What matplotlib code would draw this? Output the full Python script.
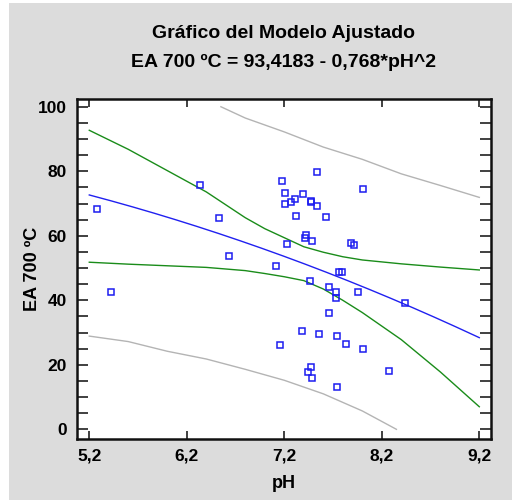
import numpy as np
import matplotlib
matplotlib.use('Agg')
from matplotlib import pyplot as plt
from matplotlib.patches import Rectangle
from matplotlib.ticker import MultipleLocator, FixedLocator

plt.rcParams['font.family'] = ['Liberation Sans', 'DejaVu Sans']

# observed data
ph = [5.276, 5.423, 6.332, 6.530, 6.633, 7.110, 7.159, 7.173, 7.210, 7.210,
      7.225, 7.272, 7.310, 7.323, 7.389, 7.385, 7.412, 7.426, 7.446, 7.464,
      7.471, 7.477, 7.474, 7.487, 7.487, 7.538, 7.538, 7.559, 7.628, 7.662,
      7.662, 7.727, 7.727, 7.737, 7.737, 7.761, 7.795, 7.830, 7.887, 7.915,
      7.953, 8.004, 8.004, 8.279, 8.443]
ea = [68.2, 42.5, 75.6, 65.4, 53.8, 50.7, 26.1, 77.0, 73.2, 69.8,
      57.5, 70.5, 71.5, 66.1, 72.9, 30.5, 59.2, 60.2, 17.7, 46.0,
      70.8, 70.5, 19.3, 58.3, 15.9, 79.7, 69.2, 29.6, 65.8, 44.2,
      36.0, 42.5, 40.8, 28.9, 13.1, 48.7, 48.7, 26.5, 57.9, 57.2,
      42.5, 74.6, 24.8, 18.0, 39.1]

# fitted model coefficients
b0 = 93.4183
b1 = 0.768

# confidence limits for the mean
ph_conf = [5.2, 5.6, 6.0, 6.4, 6.8, 7.0, 7.2, 7.4, 7.6, 7.8, 8.0, 8.4, 8.8, 9.2]
conf_hi = [92.7, 86.8, 80.2, 73.6, 65.6, 62.2, 59.4, 56.6, 54.9, 53.5, 52.5, 51.3, 50.3, 49.4]
conf_lo = [51.8, 51.2, 50.7, 50.2, 49.2, 48.3, 47.3, 46.1, 43.5, 40.0, 36.2, 27.8, 17.8, 7.0]

# prediction limits
ph_pred_hi = [6.55, 6.8, 7.2, 7.6, 8.0, 8.4, 8.8, 9.2]
pred_hi = [100.0, 96.5, 92.2, 87.5, 83.7, 79.2, 75.6, 71.9]
ph_pred_lo = [5.2, 5.6, 6.0, 6.4, 6.8, 7.2, 7.6, 8.0, 8.35]
pred_lo = [28.9, 27.2, 24.2, 21.8, 18.6, 15.2, 11.0, 5.7, 0.0]

xfit = np.linspace(5.2, 9.2, 200)
yfit = b0 - b1 * xfit ** 2

fig = plt.figure(figsize=(5.18, 5.03), dpi=100)
fig.patch.set_facecolor('white')
fig.patches.append(Rectangle((9 / 518, 3 / 503), 503 / 518, 497 / 503,
                             transform=fig.transFigure, facecolor='#dcdcdc',
                             edgecolor='none', zorder=-5))

ax = fig.add_axes([76.7 / 518, 1 - 439 / 503, (491 - 76.7) / 518, (439 - 99) / 503])
ax.set_zorder(2)
ax.set_facecolor('white')

ax.plot(ph_pred_hi, pred_hi, color='#b4b4b4', lw=1.0)
ax.plot(ph_pred_lo, pred_lo, color='#b4b4b4', lw=1.0)
ax.plot(ph_conf, conf_hi, color='#1a8c1a', lw=1.0)
ax.plot(ph_conf, conf_lo, color='#1a8c1a', lw=1.0)
ax.plot(xfit, yfit, color='#2020f0', lw=1.0)
ax.plot(ph, ea, 's', ms=5, mfc='none', mec='#1c1cf0', mew=1.1)

ax.set_xlim(5.071, 9.32)
ax.set_ylim(-3.0, 102.4)

ax.xaxis.set_major_locator(FixedLocator([5.2, 6.2, 7.2, 8.2, 9.2]))
ax.set_xticklabels(['5,2', '6,2', '7,2', '8,2', '9,2'])
ax.yaxis.set_major_locator(MultipleLocator(20))
ax.yaxis.set_minor_locator(MultipleLocator(5))
ax.tick_params(which='both', direction='in', top=True, right=True,
               length=6, width=1.2, color='#202020')
ax.tick_params(axis='y', which='both', length=8)
ax.tick_params(labelsize=12.5, pad=7)
for lab in ax.get_xticklabels() + ax.get_yticklabels():
    lab.set_fontweight('bold')

for s in ax.spines.values():
    s.set_linewidth(1.8)
    s.set_color('#111111')

ax.set_xlabel('pH', fontsize=13, fontweight='bold', labelpad=8)
ax.set_ylabel('EA 700 ºC', fontsize=13, fontweight='bold', labelpad=-2)

fig.text(0.548, 1 - 33 / 503, 'Gráfico del Modelo Ajustado', ha='center', va='center',
         fontsize=14, fontweight='bold')
fig.text(0.548, 1 - 62 / 503, 'EA 700 ºC = 93,4183 - 0,768*pH^2', ha='center',
         va='center', fontsize=14, fontweight='bold')

plt.savefig('out.png', dpi=100)
plt.close()
